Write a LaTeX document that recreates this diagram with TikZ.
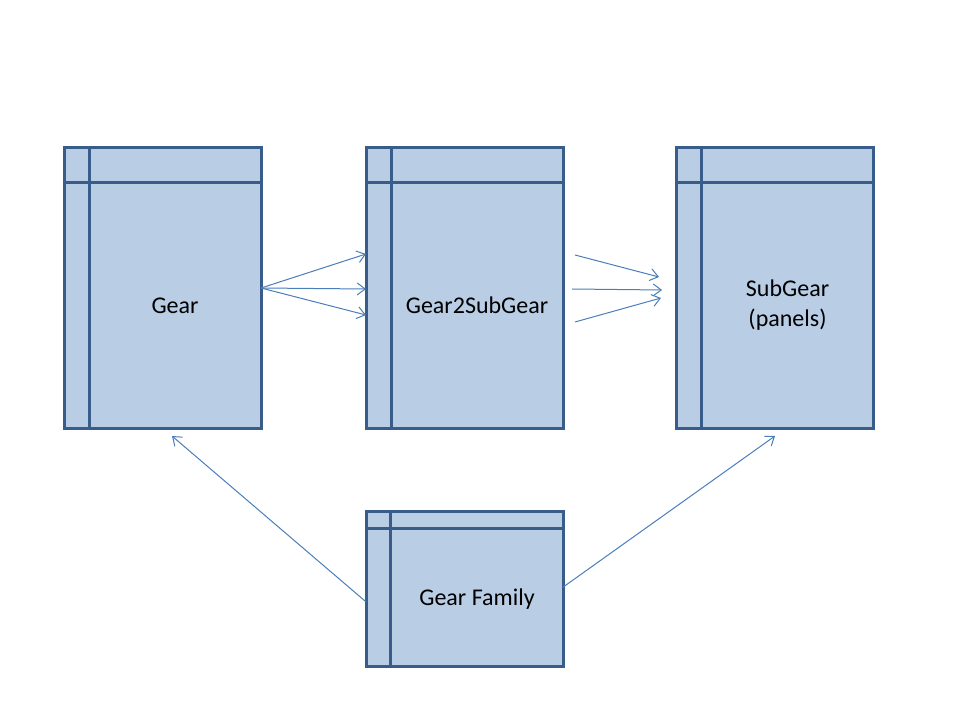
\documentclass[tikz,border=0pt]{standalone}
\usepackage{fontspec}
\setmainfont{Carlito}
\usepackage{xcolor}
\usetikzlibrary{arrows.meta}

\definecolor{tblfill}{HTML}{B9CDE5}
\definecolor{tblline}{HTML}{385D8A}
\definecolor{linkblue}{HTML}{4A7EBB}

\tikzset{
    table/.style={draw=tblline, fill=tblfill, line width=2.25pt, outer sep=0pt,
        minimum width=147.75pt, minimum height=210pt, inner sep=0pt},
    smalltable/.style={table, minimum height=116.25pt},
    divider/.style={draw=tblline, line width=2.25pt},
    tbltext/.style={font=\fontsize{18}{22.5}\selectfont, align=center, inner sep=0pt},
    link/.style={draw=linkblue, line width=0.75pt, -{Straight Barb[length=6pt, width=9pt]}}
}

\begin{document}
\begin{tikzpicture}[x=0.75pt, y=-0.75pt]
    \useasboundingbox (0,0) rectangle (960,720);

    % Tables
    \node[table] (gear) at (162.5,288) {};
    \node[table] (g2s) at (464.5,288) {};
    \node[table] (sub) at (775,288) {};
    \node[smalltable] (fam) at (464.5,588.5) {};

    % Header rows and key columns
    \foreach \t in {gear, g2s, sub} {
        \draw[divider] ([yshift=-26.25pt]\t.north west) -- ([yshift=-26.25pt]\t.north east);
        \draw[divider] ([xshift=18.75pt]\t.north west) -- ([xshift=18.75pt]\t.south west);
    }
    \draw[divider] ([yshift=-12.75pt]fam.north west) -- ([yshift=-12.75pt]fam.north east);
    \draw[divider] ([xshift=18pt]fam.north west) -- ([xshift=18pt]fam.south west);

    % Table names
    \node[tbltext] (gearname) at ([xshift=9.4pt, yshift=-13.1pt]gear.center) {Gear};
    \node[tbltext] (g2sname) at ([xshift=9.4pt, yshift=-13.1pt]g2s.center) {Gear2SubGear};
    \node[tbltext] (subname) at ([xshift=9.4pt, yshift=-13.1pt]sub.center) {SubGear\\(panels)};
    \node[tbltext] (famname) at ([xshift=9.4pt, yshift=-7.9pt]fam.center) {Gear Family};

    % Gear -> Gear2SubGear
    \draw[link] (gear.east) -- ([yshift=25.5pt]g2s.west);
    \draw[link] (gear.east) -- ([yshift=-0.75pt]g2s.west);
    \draw[link] (gear.east) -- ([yshift=-20.25pt]g2s.west);

    % Gear2SubGear -> SubGear
    \coordinate (a1) at (575,255);
    \coordinate (a2) at (572,289);
    \coordinate (a3) at (575,322);
    \coordinate (b1) at (659,277);
    \coordinate (b2) at (662,290);
    \coordinate (b3) at (661,298);
    \draw[link] (a1) -- (b1);
    \draw[link] (a2) -- (b2);
    \draw[link] (a3) -- (b3);

    % Gear Family -> Gear, SubGear
    \coordinate (gearfoot) at (172,436);
    \coordinate (subfoot) at (775,436);
    \draw[link] ([yshift=-10pt]fam.west) -- (gearfoot);
    \draw[link] ([yshift=1pt]fam.east) -- (subfoot);

\end{tikzpicture}
\end{document}
